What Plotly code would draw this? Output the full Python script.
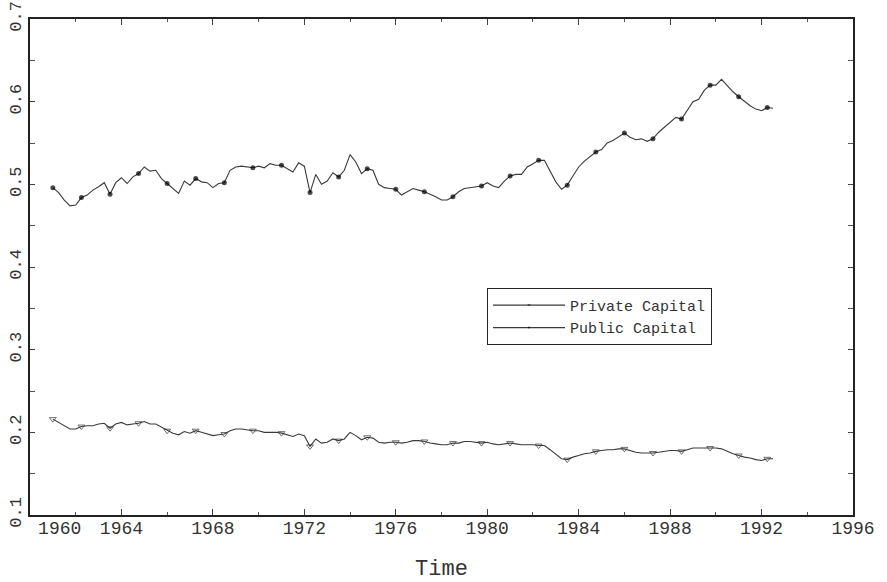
import plotly.graph_objects as go

start_year = 1961.0
quarter_step = 0.25

public_capital = [
    0.496, 0.490, 0.481, 0.474, 0.475, 0.484, 0.487, 0.493, 0.497, 0.502,
    0.488, 0.502, 0.508, 0.501, 0.509, 0.513, 0.521, 0.516, 0.517, 0.507,
    0.501, 0.495, 0.489, 0.504, 0.499, 0.507, 0.503, 0.502, 0.496, 0.501,
    0.502, 0.517, 0.521, 0.522, 0.521, 0.520, 0.522, 0.520, 0.525, 0.523,
    0.523, 0.519, 0.515, 0.526, 0.522, 0.490, 0.512, 0.500, 0.504, 0.514,
    0.509, 0.517, 0.536, 0.527, 0.513, 0.519, 0.517, 0.500, 0.496, 0.495,
    0.494, 0.487, 0.491, 0.495, 0.493, 0.491, 0.488, 0.485, 0.481, 0.481,
    0.485, 0.491, 0.495, 0.496, 0.497, 0.498, 0.502, 0.498, 0.496, 0.504,
    0.510, 0.512, 0.512, 0.521, 0.525, 0.529, 0.529, 0.515, 0.503, 0.494,
    0.499, 0.510, 0.521, 0.528, 0.534, 0.539, 0.542, 0.550, 0.553, 0.557,
    0.562, 0.557, 0.554, 0.555, 0.552, 0.555, 0.563, 0.569, 0.575, 0.581,
    0.579, 0.590, 0.600, 0.603, 0.614, 0.620, 0.620, 0.627, 0.619, 0.612,
    0.606, 0.600, 0.595, 0.591, 0.589, 0.593, 0.592,
]

private_capital = [
    0.216, 0.212, 0.207, 0.204, 0.204, 0.207, 0.208, 0.208, 0.210, 0.211,
    0.205, 0.210, 0.212, 0.209, 0.210, 0.211, 0.213, 0.210, 0.210, 0.206,
    0.202, 0.199, 0.197, 0.201, 0.199, 0.202, 0.200, 0.198, 0.196, 0.197,
    0.198, 0.202, 0.204, 0.204, 0.203, 0.202, 0.202, 0.200, 0.200, 0.200,
    0.199, 0.197, 0.195, 0.198, 0.196, 0.183, 0.192, 0.187, 0.188, 0.192,
    0.190, 0.192, 0.200, 0.196, 0.191, 0.194, 0.193, 0.188, 0.187, 0.188,
    0.188, 0.187, 0.188, 0.190, 0.190, 0.189, 0.187, 0.186, 0.185, 0.185,
    0.187, 0.187, 0.189, 0.189, 0.188, 0.187, 0.188, 0.186, 0.185, 0.186,
    0.187, 0.186, 0.185, 0.185, 0.185, 0.184, 0.184, 0.179, 0.173, 0.168,
    0.167, 0.170, 0.172, 0.174, 0.175, 0.177, 0.178, 0.179, 0.179, 0.180,
    0.180, 0.178, 0.176, 0.175, 0.175, 0.175, 0.176, 0.177, 0.178, 0.178,
    0.177, 0.179, 0.181, 0.181, 0.181, 0.181, 0.181, 0.180, 0.177, 0.174,
    0.172, 0.170, 0.169, 0.167, 0.166, 0.168, 0.168,
]

x_tick_marks = [1960, 1964, 1968, 1972, 1976, 1980, 1984, 1988, 1992, 1996]
x_label_positions = [1961.3, 1964, 1968, 1972, 1976, 1980, 1984, 1988, 1992, 1996]
x_tick_labels = ["1960", "1964", "1968", "1972", "1976", "1980", "1984", "1988", "1992", "1996"]
y_tick_vals = [0.1, 0.2, 0.3, 0.4, 0.5, 0.6, 0.7]
y_tick_labels = ["0.1", "0.2", "0.3", "0.4", "0.5", "0.6", "0.7"]

marker_every = 5

time = [start_year + i * quarter_step for i in range(len(public_capital))]

FONT = "Liberation Mono, DejaVu Sans Mono, monospace"
LINE_COLOR = "#3a3a3a"


def marker_sizes(n, size):
    return [size if i % marker_every == 0 else 0 for i in range(n)]


fig = go.Figure()
fig.add_trace(go.Scatter(
    x=time, y=private_capital, name="Private Capital",
    mode="lines+markers", xaxis="x", yaxis="y",
    line=dict(color=LINE_COLOR, width=1.1),
    marker=dict(symbol="triangle-down-open", size=marker_sizes(len(private_capital), 6),
                color="#333333", line=dict(width=1, color="#333333")),
))
fig.add_trace(go.Scatter(
    x=time, y=public_capital, name="Public Capital",
    mode="lines+markers", xaxis="x2", yaxis="y",
    line=dict(color=LINE_COLOR, width=1.1),
    marker=dict(symbol="circle", size=marker_sizes(len(public_capital), 5), color="black",
                line=dict(width=0)),
))

fig.update_layout(
    width=887, height=582,
    margin=dict(l=30, r=34, t=19, b=67, autoexpand=False),
    paper_bgcolor="white", plot_bgcolor="white",
    font=dict(family=FONT, color="#333333"),
    showlegend=True,
    legend=dict(
        x=0.5553, y=0.458, xanchor="left", yanchor="top",
        bordercolor="#222222", borderwidth=1, bgcolor="white",
        font=dict(family=FONT, size=15, color="#333333"),
        itemwidth=72, tracegroupgap=4,
    ),
    xaxis=dict(
        range=[1960, 1996], showgrid=False, zeroline=False, automargin=False,
        showline=True, linecolor="#222222", linewidth=1.5, mirror="ticks",
        tickmode="array", tickvals=x_tick_marks, ticks="inside", ticklen=6,
        tickcolor="#444444", tickwidth=1,
        showticklabels=False,
        minor=dict(dtick=2, tick0=1960, ticks="inside", ticklen=3, tickcolor="#555555", showgrid=False),
    ),
    xaxis2=dict(
        range=[1960, 1996], overlaying="x", side="bottom", anchor="y", automargin=False,
        showgrid=False, zeroline=False, showline=False,
        tickmode="array", tickvals=x_label_positions, ticktext=x_tick_labels,
        ticks="", tickfont=dict(family=FONT, size=18, color="#333333"),
        ticklabeloverflow="allow",
        title=dict(text="Time", font=dict(family=FONT, size=22, color="#333333"), standoff=25),
    ),
    yaxis=dict(
        range=[0.1, 0.7], showgrid=False, zeroline=False, automargin=False,
        showline=True, linecolor="#222222", linewidth=1.5, mirror="ticks",
        tickmode="array", tickvals=y_tick_vals, ticktext=y_tick_labels,
        ticks="inside", ticklen=5, tickcolor="#444444",
        tickangle=-90, tickfont=dict(family=FONT, size=17, color="#333333"),
        ticklabeloverflow="allow",
        minor=dict(dtick=0.05, tick0=0.1, ticks="inside", ticklen=5, tickcolor="#555555", showgrid=False),
    ),
)

fig.write_html("out.html", config={"displayModeBar": False},
               post_script="document.body.style.margin='0';")
